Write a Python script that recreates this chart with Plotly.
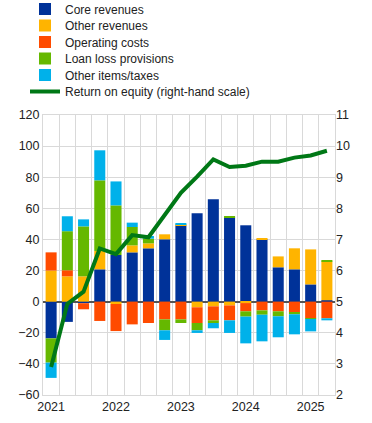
import plotly.graph_objects as go

quarters = ["2021Q1","2021Q2","2021Q3","2021Q4","2022Q1","2022Q2","2022Q3","2022Q4",
            "2023Q1","2023Q2","2023Q3","2023Q4","2024Q1","2024Q2","2024Q3","2024Q4",
            "2025Q1","2025Q2"]
year_ticks = ["2021","2022","2023","2024","2025"]

core_revenues = [-23.6,-13.0,-1.0,20.8,30.0,31.7,34.3,40.1,49.1,56.8,65.8,54.2,49.1,40.1,22.1,20.8,11.1,0.9]
other_revenues = [20.0,16.3,16.3,11.8,-1.5,4.5,3.2,3.2,0.6,-3.6,-3.0,-2.4,-0.9,0.6,7.0,13.5,22.5,25.0]
operating_costs = [11.7,3.9,-3.9,-12.4,-17.4,-14.6,-13.7,-11.4,-11.4,-10.1,-9.0,-9.6,-5.3,-5.6,-6.2,-6.9,-10.7,-10.7]
loan_loss = [-15.6,25.1,32.1,45.4,31.9,11.8,3.0,-7.0,-2.3,-4.7,-1.7,0.6,-3.4,-2.8,-3.2,-1.2,-0.4,0.6]
other_items = [-9.8,9.6,4.5,19.3,15.4,2.8,1.7,-6.2,0.6,-1.7,-3.4,-8.1,-17.2,-17.1,-13.5,-12.9,-8.0,-1.3]
roe = [2.9,4.93,5.32,6.71,6.53,7.14,7.07,7.8,8.5,9.02,9.57,9.33,9.37,9.5,9.5,9.63,9.7,9.85]

x = list(range(len(quarters)))

series = [
    ("Core revenues", core_revenues, "#003299"),
    ("Other revenues", other_revenues, "#FFB400"),
    ("Operating costs", operating_costs, "#FF4B00"),
    ("Loan loss provisions", loan_loss, "#65B800"),
    ("Other items/taxes", other_items, "#00B1EA"),
]
legend_ids = ["legend", "legend2", "legend3", "legend4", "legend5", "legend6"]
legend_rows_px = [9, 25.5, 42, 58.5, 75, 91.5]

fig = go.Figure()
for i, (name, vals, col) in enumerate(series):
    fig.add_trace(go.Bar(x=x, y=vals, name=name, marker=dict(color=col, line=dict(width=0)),
                         hovertext=quarters, legend=legend_ids[i]))
fig.add_trace(go.Scatter(x=x, y=roe, name="Return on equity (right-hand scale)", yaxis="y2",
                         mode="lines", line=dict(color="#007816", width=4), hovertext=quarters,
                         legend=legend_ids[5]))

grid = "#D9D9D9"
H = 423
legend_common = dict(xref="container", yref="container", x=25/372, xanchor="left", yanchor="middle",
                     font=dict(size=12, color="#222"), bgcolor="rgba(0,0,0,0)", borderwidth=0)
legends = {}
for lid, py in zip(legend_ids, legend_rows_px):
    legends[lid] = dict(legend_common, y=1 - py / H)

fig.update_layout(
    width=372, height=H,
    margin=dict(l=43, r=37, t=115, b=28, autoexpand=False),
    barmode="relative", bargap=0.32,
    plot_bgcolor="white", paper_bgcolor="white",
    font=dict(family="Liberation Sans, Arial, sans-serif", size=12, color="#222"),
    showlegend=True,
    xaxis=dict(range=[-0.5, 17.5], tickvals=[0, 4, 8, 12, 16], ticktext=year_ticks,
               showgrid=False, ticks="", showline=True, mirror=True, linecolor=grid, linewidth=1,
               minor=dict(tick0=-0.5, dtick=1, showgrid=True, gridcolor=grid, gridwidth=1),
               tickfont=dict(size=12.5), zeroline=False),
    yaxis=dict(range=[-60, 120], dtick=20, showgrid=True, gridcolor=grid, gridwidth=1,
               showline=True, mirror=True, linecolor=grid, ticks="",
               zeroline=True, zerolinecolor="#555555", zerolinewidth=1.5,
               tickfont=dict(size=12.5)),
    yaxis2=dict(range=[2, 11], dtick=1, overlaying="y", side="right", showgrid=False,
                zeroline=False, showline=False, ticks="", tickfont=dict(size=12.5)),
    **legends,
)

fig.write_html("out.html", config={"displayModeBar": False},
               post_script="document.body.style.margin='0';")
